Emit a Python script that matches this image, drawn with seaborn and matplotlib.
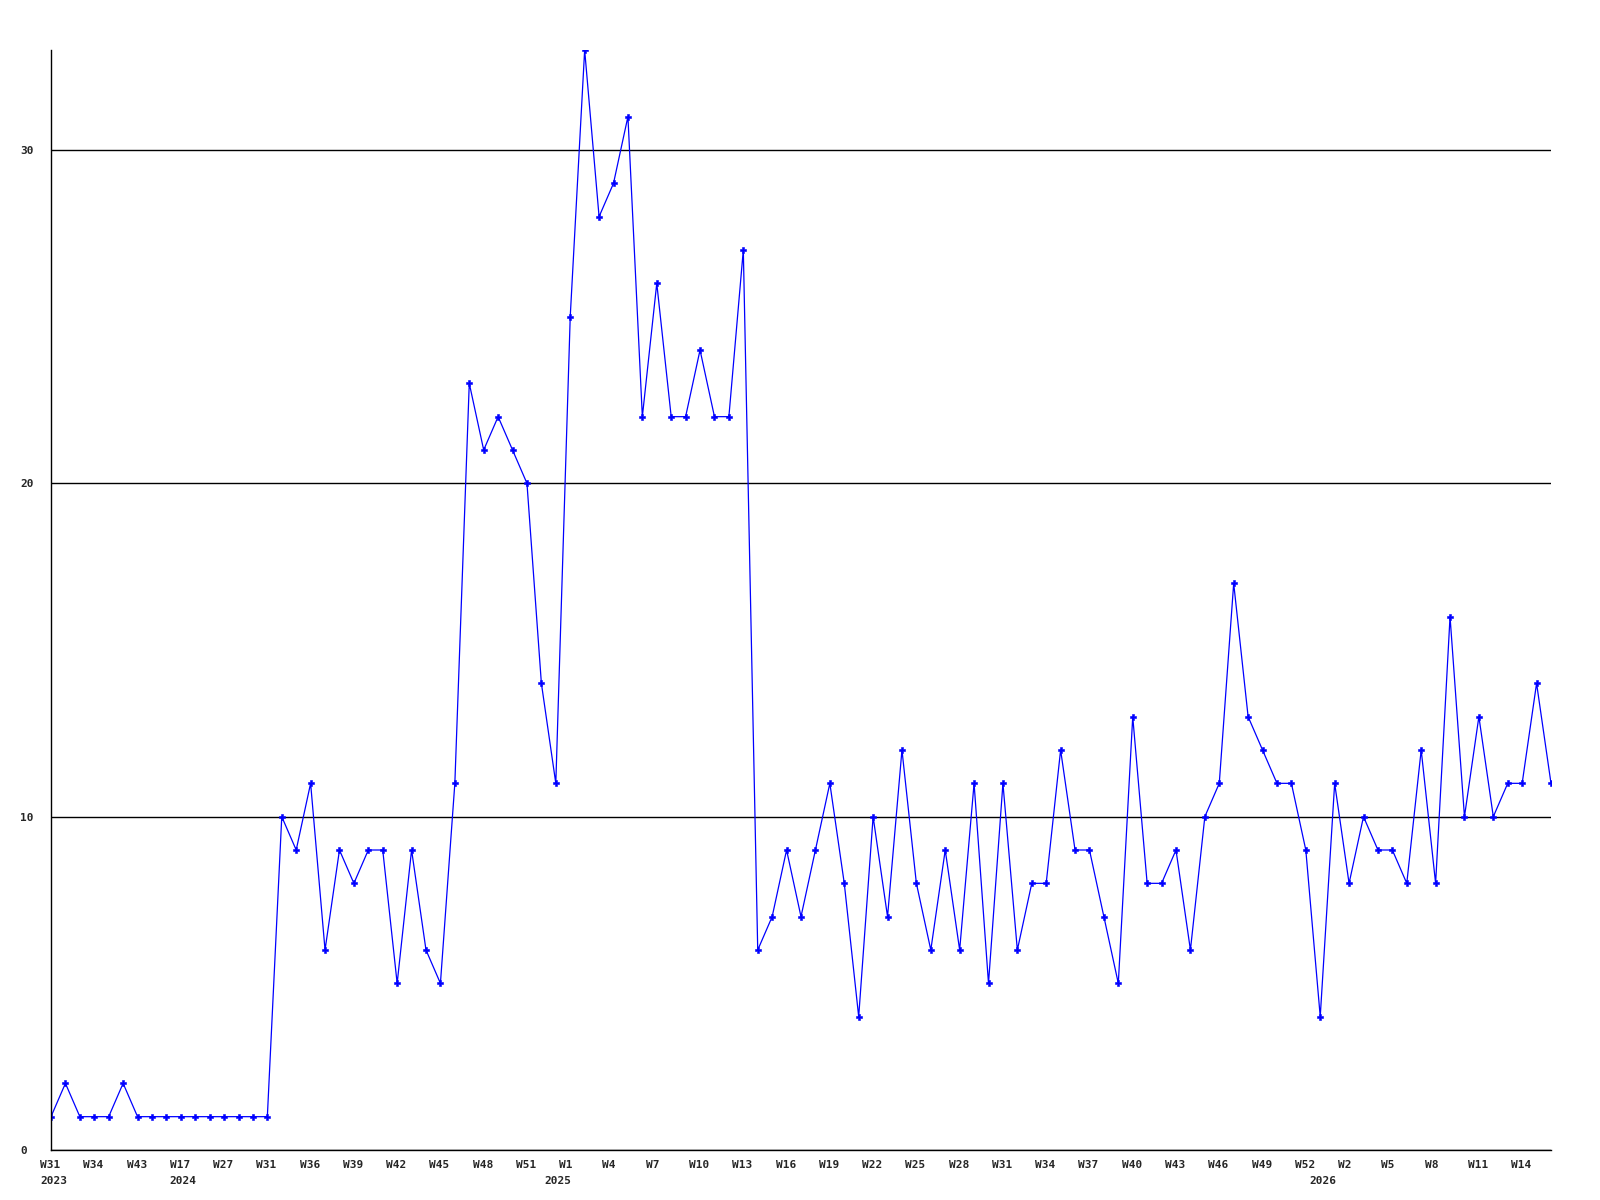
import matplotlib
matplotlib.use("Agg")
import matplotlib.pyplot as plt
import seaborn as sns
import pandas as pd

# ---- data ----
values = [1, 2, 1, 1, 1, 2, 1, 1, 1, 1, 1, 1, 1, 1, 1, 1,
          10, 9, 11, 6, 9, 8, 9, 9, 5, 9, 6, 5, 11, 23, 21, 22, 21, 20, 14, 11,
          25, 33, 28, 29, 31, 22, 26, 22, 22, 24, 22, 22, 27,
          6, 7, 9, 7, 9, 11, 8, 4, 10, 7, 12, 8, 6, 9, 6, 11, 5, 11, 6, 8, 8, 12,
          9, 9, 7, 5, 13, 8, 8, 9, 6, 10, 11, 17, 13, 12, 11, 11, 9, 4, 11, 8,
          10, 9, 9, 8, 12, 8, 16, 10, 13, 10, 11, 11, 14, 11]
week_labels = ["W31", "W34", "W43", "W17", "W27", "W31", "W36", "W39", "W42",
               "W45", "W48", "W51", "W1", "W4", "W7", "W10", "W13", "W16",
               "W19", "W22", "W25", "W28", "W31", "W34", "W37", "W40", "W43",
               "W46", "W49", "W52", "W2", "W5", "W8", "W11", "W14"]
year_labels = ["2023", "2024", "2025", "2026"]
year_label_index = [0, 9, 35, 88]
y_ticks = [0, 10, 20, 30]

df = pd.DataFrame({"idx": range(len(values)), "value": values})
tick_pos = list(range(0, len(values), 3))[:len(week_labels)]

sns.set_theme(style="white")
plt.rcParams["font.family"] = ["DejaVu Sans Mono", "DejaVu Sans"]

fig = plt.figure(figsize=(16, 12), dpi=100)
ax = fig.add_axes([51 / 1600, 1 - 1150 / 1200, 1500 / 1600, 1100 / 1200])

ax.yaxis.grid(True, color="black", linewidth=1.0)
ax.set_axisbelow(True)

sns.lineplot(data=df, x="idx", y="value", ax=ax, color="#0000ff",
             linewidth=0.9, marker="P", markersize=4.5, markeredgewidth=0.4,
             markeredgecolor="#0000ff", markerfacecolor="#0000ff")

ax.set_xlim(0, len(values) - 1)
ax.set_ylim(0, 33)
ax.set_xlabel("")
ax.set_ylabel("")

for s in ["top", "right"]:
    ax.spines[s].set_visible(False)
for s in ["left", "bottom"]:
    ax.spines[s].set_color("black")
    ax.spines[s].set_linewidth(1.0)

ax.set_yticks(y_ticks)
ax.set_yticklabels([str(v) for v in y_ticks], fontsize=8, fontweight="bold",
                   ha="left")
ax.tick_params(axis="y", length=0, pad=22.3)

ax.set_xticks(tick_pos)
ax.set_xticklabels([])
ax.tick_params(axis="x", length=0)

for pos, lab in zip(tick_pos, week_labels):
    ax.annotate(lab, xy=(pos, 0), xycoords=("data", "axes fraction"),
                xytext=(-11, -15), textcoords="offset pixels",
                ha="left", va="center", fontsize=8, fontweight="bold",
                annotation_clip=False)
for pos, lab in zip(year_label_index, year_labels):
    ax.annotate(lab, xy=(pos, 0), xycoords=("data", "axes fraction"),
                xytext=(-11, -31), textcoords="offset pixels",
                ha="left", va="center", fontsize=8, fontweight="bold",
                annotation_clip=False)

fig.savefig("out.png", dpi=100, facecolor="white")
